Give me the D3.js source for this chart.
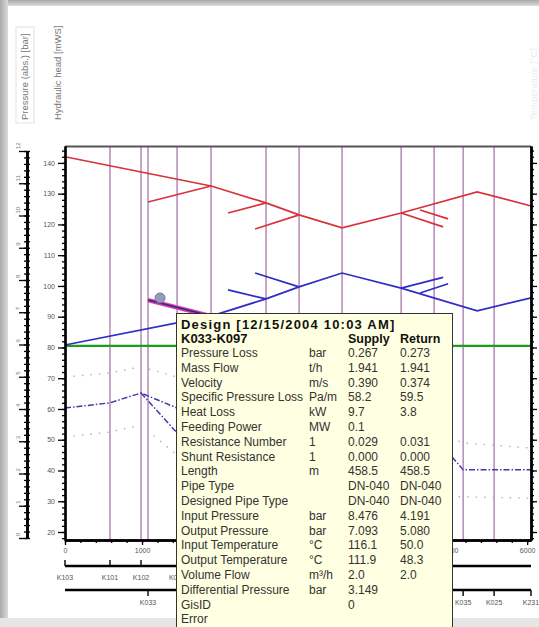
<!DOCTYPE html>
<html>
<head>
<meta charset="utf-8">
<script src="https://cdn.jsdelivr.net/npm/d3@7"></script>
<style>
  html, body { margin: 0; padding: 0; background: #d6d6d6; }
  svg { display: block; font-family: "Liberation Sans", Arial, sans-serif; }
</style>
</head>
<body>
<svg id="chart" width="539" height="627"></svg>
<script>
// ---------------- DATA ----------------
const xTicks = [0, 1000, 2000, 3000, 4000, 5000, 6000];
// labels 2000-4000 sit under the tooltip in the reference and are not visible
const xTickLabels = ["0", "1000", "", "", "", "5000", "6000"];
const yTicks = [20, 30, 40, 50, 60, 70, 80, 90, 100, 110, 120, 130, 140];
const pTicks = [0, 1, 2, 3, 4, 5, 6, 7, 8, 9, 10, 11, 12];

const nodeX = [584, 987, 1078, 1455, 1896, 2610, 3039, 3597, 4364, 4792, 5169, 5571];

const supplyMain = [[0, 142.0], [1896, 132.5], [2610, 127.0], [3039, 123.1], [3597, 118.9], [4364, 123.7], [5351, 130.6], [6050, 126.0]];
const supplyBranch1 = [[1078, 127.3], [1896, 132.5]];
const supplyBranch2 = [[2117, 123.7], [2610, 127.0]];
const supplyBranch3 = [[2468, 118.5], [3039, 123.1]];
const supplyBranch4 = [[4364, 123.7], [4909, 119.2]];
const supplyBranch5 = [[4610, 124.7], [4974, 121.8]];

const returnMain = [[0, 80.8], [1896, 90.2], [2610, 95.8], [3039, 99.7], [3597, 104.2], [4364, 99.3], [5351, 91.9], [6050, 96.1]];
const returnBranch2 = [[2117, 98.7], [2610, 95.8]];
const returnBranch3 = [[2468, 104.2], [3039, 99.7]];
const returnBranch4 = [[4364, 99.3], [4909, 102.8]];
const returnBranch5 = [[4610, 97.7], [4974, 100.7]];
const selectedPipe = [[1078, 95.4], [1896, 90.2]];
const hoverPoint = [1234, 96.1];

const staticHead = [[0, 80.5], [6050, 80.5]];

const dashDotA = [[0, 60.3], [584, 62.0], [987, 65.2], [1455, 60.3], [1896, 57.0]];
const dashDotB = [[987, 65.2], [1455, 52.2], [1896, 47.0]];
const dashDotC = [[4600, 48.0], [5026, 44.4], [5169, 40.2], [6050, 40.2]];

const dotUpperL = [[0, 70.4], [584, 71.7], [987, 73.7], [1455, 70.4]];
const dotLowerL = [[0, 50.9], [584, 52.5], [987, 54.8], [1455, 45.0]];
const dotUpperR = [[5000, 50.2], [5200, 48.9], [6050, 47.3]];
const dotLowerR = [[5000, 31.5], [6050, 31.0]];

const row2Nodes = [0, 584, 987, 1455];
const row2Labels = ["K103", "K101", "K102", "K097"];
const row3Nodes = [1078, 5169, 5571, 6050];
const row3Labels = ["K033", "K035", "K025", "K231"];

const tipTitle = "Design [12/15/2004 10:03 AM]";
const tipPipe = "K033-K097";
const tipHeaders = ["Supply", "Return"];
const tipLabels = ["Pressure Loss", "Mass Flow", "Velocity", "Specific Pressure Loss", "Heat Loss", "Feeding Power",
  "Resistance Number", "Shunt Resistance", "Length", "Pipe Type", "Designed Pipe Type", "Input Pressure",
  "Output Pressure", "Input Temperature", "Output Temperature", "Volume Flow", "Differential Pressure", "GisID", "Error"];
const tipUnits = ["bar", "t/h", "m/s", "Pa/m", "kW", "MW", "1", "1", "m", "", "", "bar", "bar", "°C", "°C", "m³/h", "bar", "", ""];
const tipSupply = ["0.267", "1.941", "0.390", "58.2", "9.7", "0.1", "0.029", "0.000", "458.5", "DN-040", "DN-040",
  "8.476", "7.093", "116.1", "111.9", "2.0", "3.149", "0", ""];
const tipReturn = ["0.273", "1.941", "0.374", "59.5", "3.8", "", "0.031", "0.000", "458.5", "DN-040", "DN-040",
  "4.191", "5.080", "50.0", "48.3", "2.0", "", "", ""];

// ---------------- DRAW ----------------
const svg = d3.select("#chart");
const W = 539, H = 627;

const defs = svg.append("defs");
const gl = defs.append("linearGradient").attr("id", "gl").attr("x1", 0).attr("x2", 1).attr("y1", 0).attr("y2", 0);
gl.append("stop").attr("offset", 0).attr("stop-color", "#a9a9a9");
gl.append("stop").attr("offset", 1).attr("stop-color", "#dadada");
const gt = defs.append("linearGradient").attr("id", "gt").attr("x1", 0).attr("x2", 0).attr("y1", 0).attr("y2", 1);
gt.append("stop").attr("offset", 0).attr("stop-color", "#a9a9a9");
gt.append("stop").attr("offset", 1).attr("stop-color", "#dcdcdc");
// clip for labels partly hidden behind the tooltip
defs.append("clipPath").attr("id", "leftOfTip")
  .append("rect").attr("x", 0).attr("y", 0).attr("width", 176.5).attr("height", H);

svg.append("rect").attr("x", 0).attr("y", 0).attr("width", W).attr("height", H).attr("fill", "#e6e6e6");
svg.append("rect").attr("x", 0).attr("y", 0).attr("width", W).attr("height", 6).attr("fill", "url(#gt)");
svg.append("rect").attr("x", 0).attr("y", 0).attr("width", 8).attr("height", 618).attr("fill", "url(#gl)");
svg.append("rect").attr("x", 8).attr("y", 6).attr("width", W - 8).attr("height", 612).attr("fill", "#ffffff");

const x = d3.scaleLinear().domain([0, 6050]).range([65, 531]);
const y = d3.scaleLinear().domain([17.4, 145.5]).range([540, 146]);
const p = d3.scaleLinear().domain([0, 12]).range([538, 151]);

const line = d3.line().x(d => x(d[0])).y(d => y(d[1]));

// axis titles (rotated)
svg.append("rect").attr("x", 16).attr("y", 27).attr("width", 18).attr("height", 96)
  .attr("fill", "none").attr("stroke", "#e2e2e2").attr("stroke-width", 1);
svg.append("text").attr("transform", "translate(28,120) rotate(-90)")
  .attr("font-size", 9.5).attr("fill", "#777").text("Pressure (abs.) [bar]");
svg.append("text").attr("transform", "translate(61,120) rotate(-90)")
  .attr("font-size", 9.5).attr("fill", "#777").text("Hydraulic head [mWS]");
svg.append("text").attr("transform", "translate(537,120) rotate(-90)")
  .attr("font-size", 9.5).attr("fill", "#ececec").text("Temperature [°C]");

// node vertical lines
svg.append("g").selectAll("line").data(nodeX).join("line")
  .attr("x1", d => x(d)).attr("x2", d => x(d)).attr("y1", 146).attr("y2", 540)
  .attr("stroke", "#b27fb2").attr("stroke-width", 1.4);

// plot top border
svg.append("line").attr("x1", 65).attr("x2", 531).attr("y1", 146.5).attr("y2", 146.5)
  .attr("stroke", "#555").attr("stroke-width", 2);

// dotted min/max lines
[dotUpperL, dotLowerL, dotUpperR, dotLowerR].forEach(d => {
  svg.append("path").attr("d", line(d)).attr("fill", "none")
    .attr("stroke", "#b8a8d8").attr("stroke-width", 1.4).attr("stroke-dasharray", "1.5 7");
});
// dash-dot lines
[dashDotA, dashDotB, dashDotC].forEach(d => {
  svg.append("path").attr("d", line(d)).attr("fill", "none")
    .attr("stroke", "#3c3ca8").attr("stroke-width", 1.5).attr("stroke-dasharray", "6 2 1.5 2");
});

// static head (green)
svg.append("path").attr("d", line(staticHead)).attr("fill", "none")
  .attr("stroke", "#1aa01a").attr("stroke-width", 2.2);

// return (blue)
[returnMain, returnBranch2, returnBranch3, returnBranch4, returnBranch5].forEach(d => {
  svg.append("path").attr("d", line(d)).attr("fill", "none")
    .attr("stroke", "#2e2ec4").attr("stroke-width", 1.7);
});
// supply (red)
[supplyMain, supplyBranch1, supplyBranch2, supplyBranch3, supplyBranch4, supplyBranch5].forEach(d => {
  svg.append("path").attr("d", line(d)).attr("fill", "none")
    .attr("stroke", "#d8323c").attr("stroke-width", 1.7);
});
// selected pipe highlight
svg.append("path").attr("d", line(selectedPipe)).attr("fill", "none")
  .attr("stroke", "#e23ca8").attr("stroke-width", 4.5);
svg.append("path").attr("d", line(selectedPipe)).attr("fill", "none")
  .attr("stroke", "#2a2a90").attr("stroke-width", 1.6);
svg.append("circle").attr("cx", x(hoverPoint[0])).attr("cy", y(hoverPoint[1])).attr("r", 5)
  .attr("fill", "#9a9ab8").attr("stroke", "#7a7a9a").attr("stroke-width", 1);

// ---- axes ----
function styleAxis(g, lw) {
  g.select(".domain").attr("stroke", "#000").attr("stroke-width", lw);
  g.selectAll(".tick line").attr("stroke", "#000").attr("stroke-width", 1.3);
  g.selectAll(".tick text").attr("fill", "#555").attr("font-size", 7)
    .attr("font-family", "'Liberation Sans', Arial, sans-serif");
}
const yMinor = d3.range(18, 146, 2);
const gyMinor = svg.append("g").attr("transform", "translate(65,0)")
  .call(d3.axisLeft(y).tickValues(yMinor).tickSize(3).tickFormat("").tickSizeOuter(0));
styleAxis(gyMinor, 2.2);
const gy = svg.append("g").attr("transform", "translate(65,0)")
  .call(d3.axisLeft(y).tickValues(yTicks).tickSize(7).tickPadding(3).tickSizeOuter(0));
styleAxis(gy, 2.2);

const gyrMinor = svg.append("g").attr("transform", "translate(531,0)")
  .call(d3.axisRight(y).tickValues(yMinor).tickSize(3).tickFormat("").tickSizeOuter(0));
styleAxis(gyrMinor, 2.4);
const gyr = svg.append("g").attr("transform", "translate(531,0)")
  .call(d3.axisRight(y).tickValues(yTicks).tickSize(6).tickFormat("").tickSizeOuter(0));
styleAxis(gyr, 2.4);

const pMinor = d3.range(0, 12.01, 0.2);
const gpMinor = svg.append("g").attr("transform", "translate(27,0)")
  .call(d3.axisLeft(p).tickValues(pMinor).tickSize(3).tickFormat("").tickSizeOuter(0));
styleAxis(gpMinor, 2.6);
gpMinor.selectAll(".tick line").attr("x1", 3);
const gp = svg.append("g").attr("transform", "translate(27,0)")
  .call(d3.axisLeft(p).tickValues(pTicks).tickSize(8).tickFormat("").tickSizeOuter(0));
styleAxis(gp, 2.6);
svg.append("g").selectAll("text").data(pTicks).join("text")
  .attr("transform", d => `translate(${20},${p(d) - 2}) rotate(-90)`)
  .attr("font-size", 6).attr("fill", "#777").text(d => d);

const xMinor = d3.range(0, 6001, 200);
const gxMinor = svg.append("g").attr("transform", "translate(0,540)")
  .call(d3.axisBottom(x).tickValues(xMinor).tickSize(3).tickFormat("").tickSizeOuter(0));
styleAxis(gxMinor, 2.4);
const gx = svg.append("g").attr("transform", "translate(0,540)")
  .call(d3.axisBottom(x).tickValues(xTicks).tickSize(5).tickPadding(3)
    .tickFormat((d, i) => xTickLabels[i]).tickSizeOuter(0));
styleAxis(gx, 2.4);

function nodeRow(yPos, nodes, labels, dir, labelY) {
  const g = svg.append("g");
  g.append("line").attr("x1", x(0)).attr("x2", x(6050)).attr("y1", yPos).attr("y2", yPos)
    .attr("stroke", "#000").attr("stroke-width", 2.6);
  g.selectAll("line.t").data(nodes).join("line").attr("class", "t")
    .attr("x1", d => x(d)).attr("x2", d => x(d)).attr("y1", yPos).attr("y2", yPos + dir * 6)
    .attr("stroke", "#000").attr("stroke-width", 1.4);
  g.selectAll("text").data(nodes).join("text")
    .attr("x", d => x(d)).attr("y", labelY).attr("text-anchor", "middle")
    .attr("font-size", 7).attr("fill", "#555").text((d, i) => labels[i])
    .attr("clip-path", d => (x(d) > 165 && x(d) < 190) ? "url(#leftOfTip)" : null);
}
nodeRow(566, row2Nodes, row2Labels, -1, 580);
nodeRow(590, row3Nodes, row3Labels, 1, 605);

// ---- tooltip ----
const tip = svg.append("g");
tip.append("rect").attr("x", 176.5).attr("y", 313.5).attr("width", 276).attr("height", 330)
  .attr("fill", "#ffffe1").attr("stroke", "#333").attr("stroke-width", 1);
tip.append("text").attr("x", 181).attr("y", 329).attr("font-size", 13).attr("font-weight", "bold")
  .attr("letter-spacing", 1.2).attr("fill", "#111").text(tipTitle);
tip.append("text").attr("x", 181).attr("y", 343).attr("font-size", 13).attr("font-weight", "bold")
  .attr("fill", "#111").text(tipPipe);
tip.append("text").attr("x", 348).attr("y", 343).attr("font-size", 12.5).attr("font-weight", "bold")
  .attr("fill", "#111").text(tipHeaders[0]);
tip.append("text").attr("x", 400).attr("y", 343).attr("font-size", 12.5).attr("font-weight", "bold")
  .attr("fill", "#111").text(tipHeaders[1]);
const rowY = i => 357 + i * 14.8;
const cols = [[181, tipLabels], [309, tipUnits], [348, tipSupply], [400, tipReturn]];
cols.forEach(([cx, arr]) => {
  tip.append("g").selectAll("text").data(arr).join("text")
    .attr("x", cx).attr("y", (d, i) => rowY(i)).attr("font-size", 12).attr("fill", "#333").text(d => d);
});
</script>
</body>
</html>
